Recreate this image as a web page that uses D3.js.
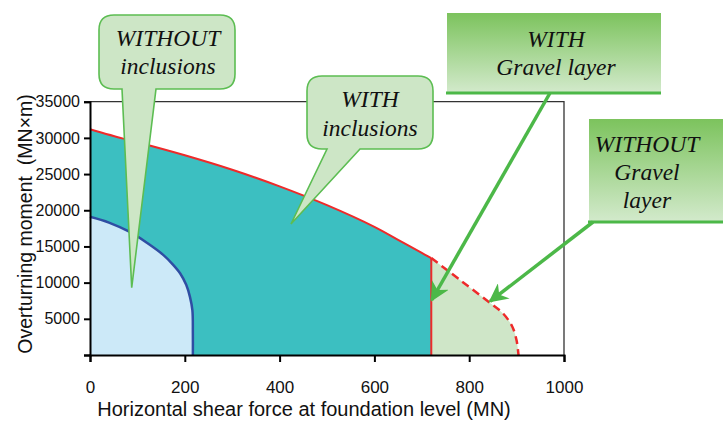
<!DOCTYPE html>
<html>
<head>
<meta charset="utf-8">
<script src="https://cdn.jsdelivr.net/npm/d3@7"></script>
<style>
  html, body { margin: 0; padding: 0; background: #fff; }
  svg { display: block; }
  .tick text { font-family: "Liberation Sans", Arial, sans-serif; fill: #111; }
</style>
</head>
<body>
<svg id="chart" width="723" height="424"></svg>
<script>
// ---- data ----
const xTicks = [0, 200, 400, 600, 800, 1000];
const yTicks = [0, 5000, 10000, 15000, 20000, 25000, 30000, 35000];

// WITH inclusions (red, solid) envelope
const shearWith  = [0, 70, 100, 200, 300, 400, 500, 600, 650, 700, 720];
const momentWith = [31200, 29900, 29400, 27600, 25600, 23300, 20700, 17700, 15900, 14100, 13400];

// WITHOUT inclusions (blue) envelope
const shearWithout  = [0, 40, 84, 120, 155, 175, 190, 203, 211, 216, 217, 217];
const momentWithout = [19100, 18300, 17000, 15500, 13800, 12500, 11300, 9700, 8000, 6200, 3000, 0];

// WITHOUT gravel layer (red, dashed) envelope
const shearNoGravel  = [720, 780, 840, 872, 891, 900, 904];
const momentNoGravel = [13400, 10400, 7400, 5700, 3900, 2000, 0];

// annotations: labels and the data point each one points at
const calloutLabels = [["WITHOUT", "inclusions"], ["WITH", "inclusions"]];
const calloutTipShear  = [88, 424];
const calloutTipMoment = [9300, 18100];
const bannerLabels = [["WITH", "Gravel layer"], ["WITHOUT", "Gravel", "layer"]];
const bannerTipShear  = [721, 844];
const bannerTipMoment = [7600, 7400];

// ---- layout ----
const svg = d3.select("#chart");
const x = d3.scaleLinear().domain([0, 1000]).range([90, 564]);
const y = d3.scaleLinear().domain([0, 35000]).range([355, 101.7]);

const zip = (xs, ys) => xs.map((v, i) => [v, ys[i]]);
const ptsWith = zip(shearWith, momentWith);
const ptsWithout = zip(shearWithout, momentWithout);
const ptsNoGravel = zip(shearNoGravel, momentNoGravel);

const curve = d3.curveCatmullRom.alpha(0.5);
const area = d3.area().x(d => x(d[0])).y0(y(0)).y1(d => y(d[1])).curve(curve);
const line = d3.line().x(d => x(d[0])).y(d => y(d[1])).curve(curve);

const defs = svg.append("defs");
const grad = defs.append("linearGradient").attr("id", "gband").attr("x1", 0).attr("y1", 0).attr("x2", 0).attr("y2", 1);
grad.append("stop").attr("offset", "0%").attr("stop-color", "#7cc35d");
grad.append("stop").attr("offset", "100%").attr("stop-color", "#d3eacc");
defs.append("marker").attr("id", "arrow").attr("viewBox", "0 0 10 10")
  .attr("refX", 9).attr("refY", 5).attr("markerWidth", 5.5).attr("markerHeight", 5.5)
  .attr("markerUnits", "strokeWidth").attr("orient", "auto")
  .append("path").attr("d", "M0,0 L10,5 L0,10 L3,5 Z").attr("fill", "#4cb848");

// fills
svg.append("path").attr("d", area(ptsNoGravel)).attr("fill", "#cfe6c8");
svg.append("path").attr("d", area(ptsWith)).attr("fill", "#3cbfc1");
svg.append("path").attr("d", area(ptsWithout)).attr("fill", "#cce9f8");

// lines
svg.append("path").attr("d", line(ptsNoGravel)).attr("fill", "none")
  .attr("stroke", "#ee2a2a").attr("stroke-width", 2.5).attr("stroke-dasharray", "8,5");
svg.append("path").attr("d", line(ptsWith)).attr("fill", "none")
  .attr("stroke", "#ee2a2a").attr("stroke-width", 2);
const last = ptsWith[ptsWith.length - 1];
svg.append("line").attr("x1", x(last[0])).attr("x2", x(last[0]))
  .attr("y1", y(last[1])).attr("y2", y(0)).attr("stroke", "#ee2a2a").attr("stroke-width", 2);
svg.append("path").attr("d", line(ptsWithout)).attr("fill", "none")
  .attr("stroke", "#2f4ea3").attr("stroke-width", 2.5);

// frame (top/right)
svg.append("path").attr("d", `M${x(0)},${y(35000)} H${x(1000)} V${y(0)}`)
  .attr("fill", "none").attr("stroke", "#333").attr("stroke-width", 1.3);

// axes
const xAxis = svg.append("g").attr("transform", `translate(0,${y(0)})`)
  .call(d3.axisBottom(x).tickValues(xTicks).tickSize(7).tickPadding(19).tickFormat(d3.format("d")));
xAxis.selectAll("text").style("font-size", "17px");
const yAxis = svg.append("g").attr("transform", `translate(${x(0)},0)`)
  .call(d3.axisLeft(y).tickValues(yTicks).tickSize(6).tickPadding(4).tickFormat(d => d === 0 ? "" : d3.format("d")(d)));
yAxis.selectAll("text").style("font-size", "16px");
[xAxis, yAxis].forEach(a => {
  a.select(".domain").attr("stroke", "#000").attr("stroke-width", 2);
  a.selectAll(".tick line").attr("stroke", "#000").attr("stroke-width", 2);
});

svg.append("text").attr("x", 304).attr("y", 416).attr("text-anchor", "middle")
  .style("font-family", "'Liberation Sans', Arial, sans-serif").style("font-size", "20px").attr("fill", "#111")
  .text("Horizontal shear force at foundation level (MN)");
svg.append("text").attr("transform", "translate(32,224) rotate(-90)").attr("text-anchor", "middle")
  .style("font-family", "'Liberation Sans', Arial, sans-serif").style("font-size", "19.5px").style("white-space", "pre").attr("fill", "#111")
  .text("Overturning moment  (MN\u00d7m)");

// rounded callouts
const calloutBoxes = [
  { x0: 99, y0: 15, x1: 235, y1: 89, b0: 122, b1: 156, lines: [46, 74], cx: 168 },
  { x0: 307, y0: 76, x1: 433, y1: 149, b0: 327, b1: 360, lines: [107, 136], cx: 370 }
];
calloutBoxes.forEach((b, i) => {
  const r = 15, tx = x(calloutTipShear[i]), ty = y(calloutTipMoment[i]);
  const d = `M${b.x0 + r},${b.y0} H${b.x1 - r} Q${b.x1},${b.y0} ${b.x1},${b.y0 + r} V${b.y1 - r} ` +
    `Q${b.x1},${b.y1} ${b.x1 - r},${b.y1} H${b.b1} L${tx},${ty} L${b.b0},${b.y1} H${b.x0 + r} ` +
    `Q${b.x0},${b.y1} ${b.x0},${b.y1 - r} V${b.y0 + r} Q${b.x0},${b.y0} ${b.x0 + r},${b.y0} Z`;
  svg.append("path").attr("d", d).attr("fill", "#cde6c6").attr("stroke", "#5cbd52").attr("stroke-width", 1.6);
  calloutLabels[i].forEach((t, j) => {
    svg.append("text").attr("x", b.cx).attr("y", b.lines[j]).attr("text-anchor", "middle")
      .style("font-family", "'Liberation Serif', 'Times New Roman', serif").style("font-style", "italic")
      .style("font-size", "23.5px").attr("fill", "#111").text(t);
  });
});

// gradient banners with arrows
const banners = [
  { x0: 447, y0: 13, x1: 661, y1: 93, ax: 550, lines: [47, 75], cx: 556 },
  { x0: 589, y0: 119, x1: 723, y1: 222, ax: 593, lines: [152, 180, 208], cx: 647 }
];
banners.forEach((b, i) => {
  svg.append("rect").attr("x", b.x0).attr("y", b.y0).attr("width", b.x1 - b.x0).attr("height", b.y1 - b.y0)
    .attr("fill", "url(#gband)");
  svg.append("line").attr("x1", b.x0 - 1).attr("x2", b.x1).attr("y1", b.y1).attr("y2", b.y1)
    .attr("stroke", "#4cb848").attr("stroke-width", 3);
  bannerLabels[i].forEach((t, j) => {
    svg.append("text").attr("x", b.cx).attr("y", b.lines[j]).attr("text-anchor", "middle")
      .style("font-family", "'Liberation Serif', 'Times New Roman', serif").style("font-style", "italic")
      .style("font-size", "23.5px").attr("fill", "#111").text(t);
  });
  svg.append("line").attr("x1", b.ax).attr("y1", b.y1)
    .attr("x2", x(bannerTipShear[i])).attr("y2", y(bannerTipMoment[i]))
    .attr("stroke", "#4cb848").attr("stroke-width", 3.5).attr("marker-end", "url(#arrow)");
});
</script>
</body>
</html>
